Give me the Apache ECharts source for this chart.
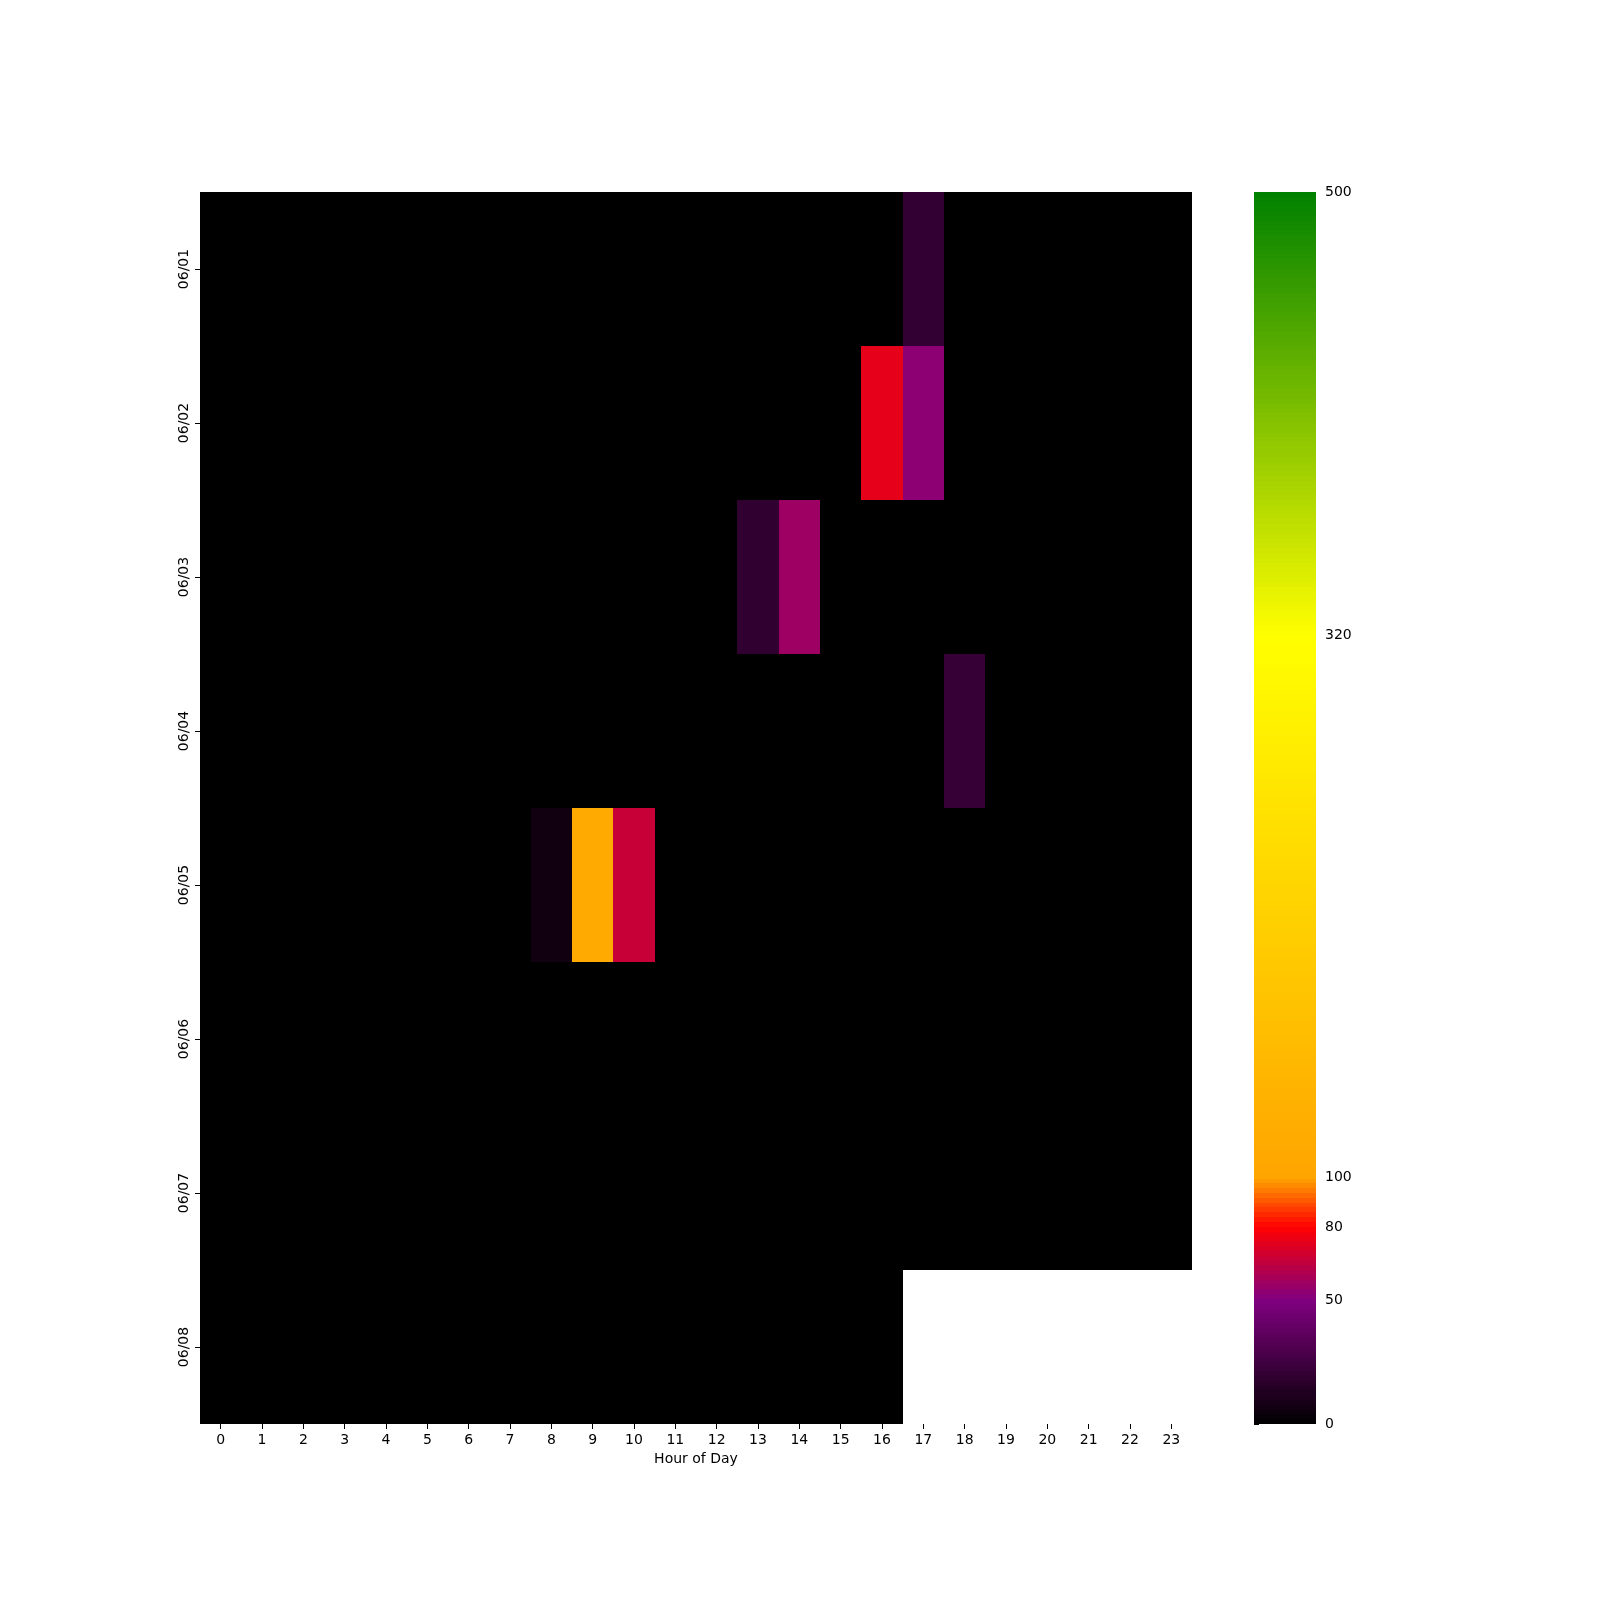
<!DOCTYPE html>
<html>
<head>
<meta charset="utf-8">
<script src="https://cdn.jsdelivr.net/npm/echarts@6/dist/echarts.min.js"></script>
<style>
  html, body { margin: 0; padding: 0; background: #fff; }
  #chart { width: 1600px; height: 1600px; }
</style>
</head>
<body>
<div id="chart"></div>
<script>
var hours = ['0','1','2','3','4','5','6','7','8','9','10','11','12','13','14','15','16','17','18','19','20','21','22','23'];
var days = ['06/01','06/02','06/03','06/04','06/05','06/06','06/07','06/08'];

// one row per day, one value per hour (null = no data)
var d0601 = [0,0,0,0,0,0,0,0,0,0,0,0,0,0,0,0,0,20,0,0,0,0,0,0];
var d0602 = [0,0,0,0,0,0,0,0,0,0,0,0,0,0,0,0,74,53,0,0,0,0,0,0];
var d0603 = [0,0,0,0,0,0,0,0,0,0,0,0,0,19,57,0,0,0,0,0,0,0,0,0];
var d0604 = [0,0,0,0,0,0,0,0,0,0,0,0,0,0,0,0,0,0,21,0,0,0,0,0];
var d0605 = [0,0,0,0,0,0,0,0,6,112,67,0,0,0,0,0,0,0,0,0,0,0,0,0];
var d0606 = [0,0,0,0,0,0,0,0,0,0,0,0,0,0,0,0,0,0,0,0,0,0,0,0];
var d0607 = [0,0,0,0,0,0,0,0,0,0,0,0,0,0,0,0,0,0,0,0,0,0,0,0];
var d0608 = [0,0,0,0,0,0,0,0,0,0,0,0,0,0,0,0,0,null,null,null,null,null,null,null];
var rows = [d0601, d0602, d0603, d0604, d0605, d0606, d0607, d0608];

// colour scale nodes / colourbar ticks
var scaleTicks = [0, 50, 80, 100, 320, 500];
var scaleColors = [[0,0,0],[128,0,128],[255,0,0],[255,165,0],[255,255,0],[0,128,0]];

function colorAt(v) {
    for (var i = 0; i < scaleTicks.length - 1; i++) {
        if (v <= scaleTicks[i + 1]) {
            var t = (v - scaleTicks[i]) / (scaleTicks[i + 1] - scaleTicks[i]);
            var a = scaleColors[i], b = scaleColors[i + 1];
            return 'rgb(' + [0,1,2].map(function (k) { return Math.round(a[k] + (b[k] - a[k]) * t); }).join(',') + ')';
        }
    }
    return 'rgb(0,128,0)';
}
var gradient = [];
for (var s = 0; s <= 500; s += 5) gradient.push(colorAt(s));

var data = [];
rows.forEach(function (row, y) {
    row.forEach(function (v, x) {
        if (v !== null) data.push([x, y, v]);
    });
});

// colourbar steps (matplotlib style discrete bands)
var barStep = 500 / 256;
var barSteps = [];
for (var k = 0; k < 256; k++) barSteps.push([k * barStep, (k + 1) * barStep, (k + 0.5) * barStep]);

// snap rect edges to whole pixels so neighbouring cells leave no seams
function snapRect(x0, y0, x1, y1) {
    var l = Math.round(Math.min(x0, x1)), r = Math.round(Math.max(x0, x1));
    var t = Math.round(Math.min(y0, y1)), b = Math.round(Math.max(y0, y1));
    return {x: l, y: t, width: r - l, height: b - t};
}

function cellItem(params, api) {
    var p = api.coord([api.value(0), api.value(1)]);
    var sz = api.size([1, 1]);
    return {type: 'rect',
            shape: snapRect(p[0] - sz[0] / 2, p[1] - sz[1] / 2, p[0] + sz[0] / 2, p[1] + sz[1] / 2),
            style: {fill: api.visual('color')}};
}

function barItem(params, api) {
    var lo = api.coord([0, api.value(0)]);
    var hi = api.coord([1, api.value(1)]);
    return {type: 'rect', shape: snapRect(lo[0], lo[1], hi[0], hi[1]),
            style: {fill: api.visual('color')}};
}

var font = 'DejaVu Sans';
var chart = echarts.init(document.getElementById('chart'));
chart.setOption({
    backgroundColor: '#fff',
    animation: false,
    grid: [
        {left: 200, top: 192, width: 992, height: 1232},
        {left: 1254, top: 192, width: 62, height: 1232}
    ],
    xAxis: [{
        type: 'category', data: hours, gridIndex: 0,
        name: 'Hour of Day', nameLocation: 'middle', nameGap: 28,
        nameTextStyle: {fontFamily: font, fontSize: 14, color: '#000'},
        axisLine: {show: false},
        axisTick: {show: true, alignWithLabel: true, length: 5, lineStyle: {color: '#000'}},
        axisLabel: {fontFamily: font, fontSize: 14, color: '#000', margin: 9},
        splitLine: {show: false}
    }, {
        type: 'value', gridIndex: 1, min: 0, max: 1, show: false,
        axisLine: {show: false}, axisTick: {show: false}, axisLabel: {show: false}, splitLine: {show: false}
    }],
    yAxis: [{
        type: 'category', data: days, gridIndex: 0, inverse: true,
        axisLine: {show: false},
        axisTick: {show: true, alignWithLabel: true, length: 5, lineStyle: {color: '#000'}},
        axisLabel: {fontFamily: font, fontSize: 14, color: '#000', rotate: 90, margin: 9},
        splitLine: {show: false}
    }, {
        type: 'value', gridIndex: 1, min: 0, max: 500, position: 'right',
        axisLine: {show: false},
        axisTick: {show: true, length: 5, lineStyle: {color: '#000'}, customValues: scaleTicks},
        axisLabel: {fontFamily: font, fontSize: 14, color: '#000', margin: 9, customValues: scaleTicks},
        splitLine: {show: false}
    }],
    visualMap: {
        type: 'continuous', min: 0, max: 500, show: false,
        seriesIndex: [0, 1], dimension: 2,
        inRange: {color: gradient}
    },
    series: [{
        type: 'custom', xAxisIndex: 0, yAxisIndex: 0,
        renderItem: cellItem,
        encode: {x: 0, y: 1},
        data: data,
        silent: true
    }, {
        type: 'custom', xAxisIndex: 1, yAxisIndex: 1,
        renderItem: barItem,
        encode: {y: [0, 1]},
        data: barSteps,
        silent: true
    }]
});
</script>
</body>
</html>
